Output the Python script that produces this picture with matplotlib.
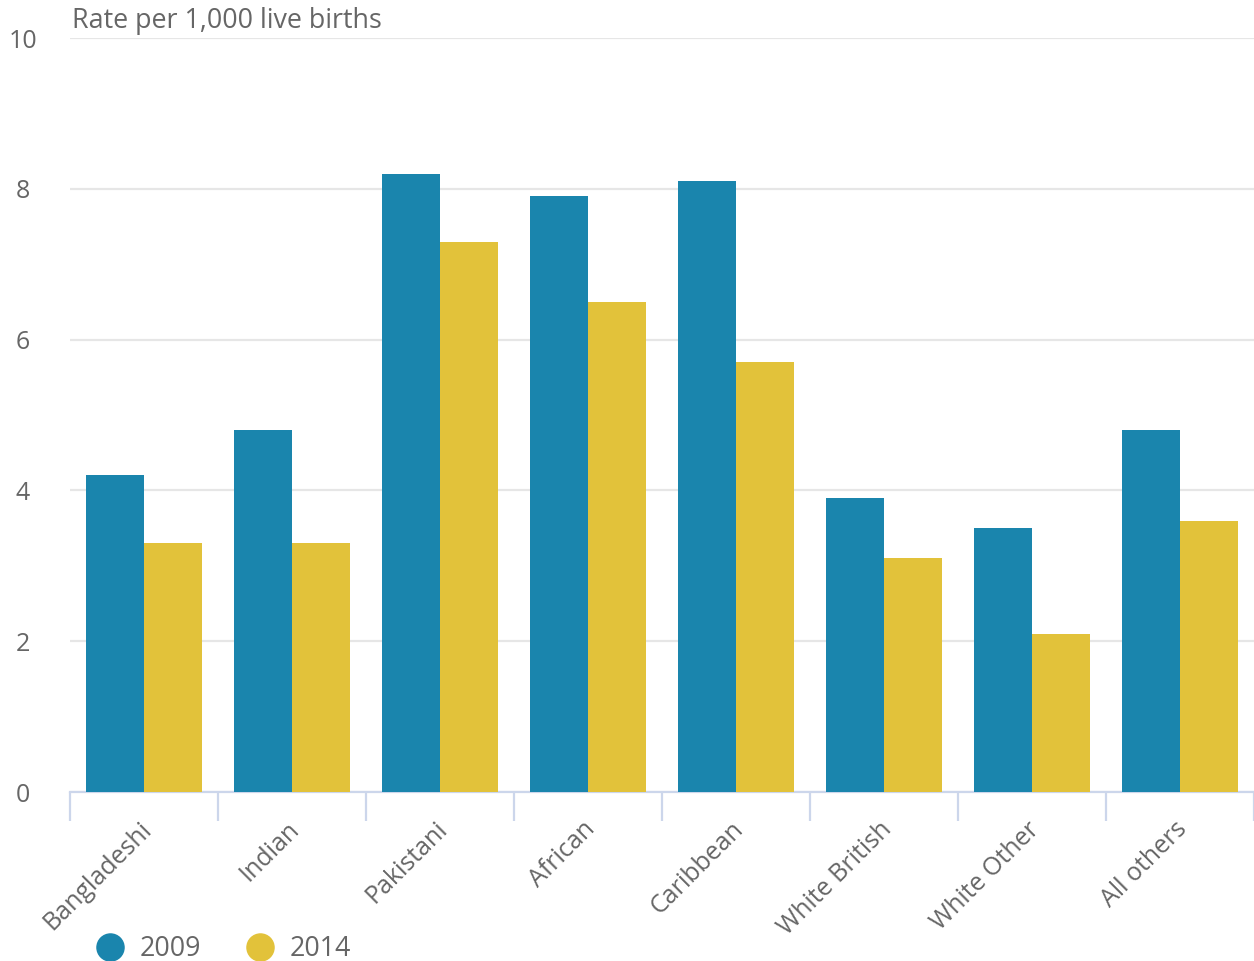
import matplotlib
matplotlib.use("Agg")
import matplotlib.pyplot as plt
import matplotlib.transforms as mtransforms
import numpy as np
from matplotlib.lines import Line2D

plt.rcParams['font.family'] = ['Open Sans', 'DejaVu Sans']

categories = ["Bangladeshi", "Indian", "Pakistani", "African", "Caribbean",
              "White British", "White Other", "All others"]
rate_2009 = [4.2, 4.8, 8.2, 7.9, 8.1, 3.9, 3.5, 4.8]
rate_2014 = [3.3, 3.3, 7.3, 6.5, 5.7, 3.1, 2.1, 3.6]
series_labels = ["2009", "2014"]
yticks = [0, 2, 4, 6, 8, 10]

blue = "#1a85ad"
yellow = "#e2c23a"
text_grey = "#666666"
axis_col = "#ccd6eb"
grid_col = "#e6e6e6"

fig = plt.figure(figsize=(12.54, 9.61), dpi=100)
ax = fig.add_axes([70 / 1254, 1 - 792 / 961, 1184 / 1254, (792 - 38) / 961])

x = np.arange(len(categories))
w = 0.395
ax.bar(x - w / 2, rate_2009, width=w, color=blue, linewidth=0, zorder=3)
ax.bar(x + w / 2, rate_2014, width=w, color=yellow, linewidth=0, zorder=3)

ax.set_xlim(-0.5, len(categories) - 0.5)
ax.set_ylim(0, 10)
ax.set_yticks(yticks)
ax.set_yticklabels([str(t) for t in yticks], fontsize=18, color=text_grey)
ax.tick_params(axis='y', length=0, pad=34)
for lbl in ax.get_yticklabels():
    lbl.set_horizontalalignment('center')

ax.yaxis.grid(True, color=grid_col, linewidth=1.6, zorder=0)
ax.set_axisbelow(True)
for s in ["top", "right", "left"]:
    ax.spines[s].set_visible(False)
ax.spines["bottom"].set_color(axis_col)
ax.spines["bottom"].set_linewidth(1.6)

# category boundaries as ticks
ax.set_xticks(np.arange(len(categories) + 1) - 0.5, minor=True)
ax.tick_params(axis='x', which='minor', length=21, width=1.6, color=axis_col)
ax.set_xticks(x)
ax.set_xticklabels(categories, rotation=45, ha='right', rotation_mode='anchor',
                   fontsize=18, color=text_grey)
ax.tick_params(axis='x', which='major', length=0, pad=18)
shift = mtransforms.ScaledTranslation(-5 / 100, 0, fig.dpi_scale_trans)
for lbl in ax.get_xticklabels():
    lbl.set_transform(lbl.get_transform() + shift)

fig.text(72 / 1254, 1 - 21 / 961, "Rate per 1,000 live births", fontsize=19.4,
         color=text_grey, ha='left', va='center')

handles = [Line2D([], [], marker='o', linestyle='none', markersize=19.5,
                  markerfacecolor=c, markeredgecolor=c)
           for c in (blue, yellow)]
fig.legend(handles, series_labels, loc='center left',
           bbox_to_anchor=(67 / 1254, 1 - 949 / 961), ncol=2, frameon=False,
           fontsize=19.3, labelcolor=text_grey, handletextpad=0.4,
           columnspacing=1.5, handlelength=1.4)

fig.savefig("out.png", dpi=100)
